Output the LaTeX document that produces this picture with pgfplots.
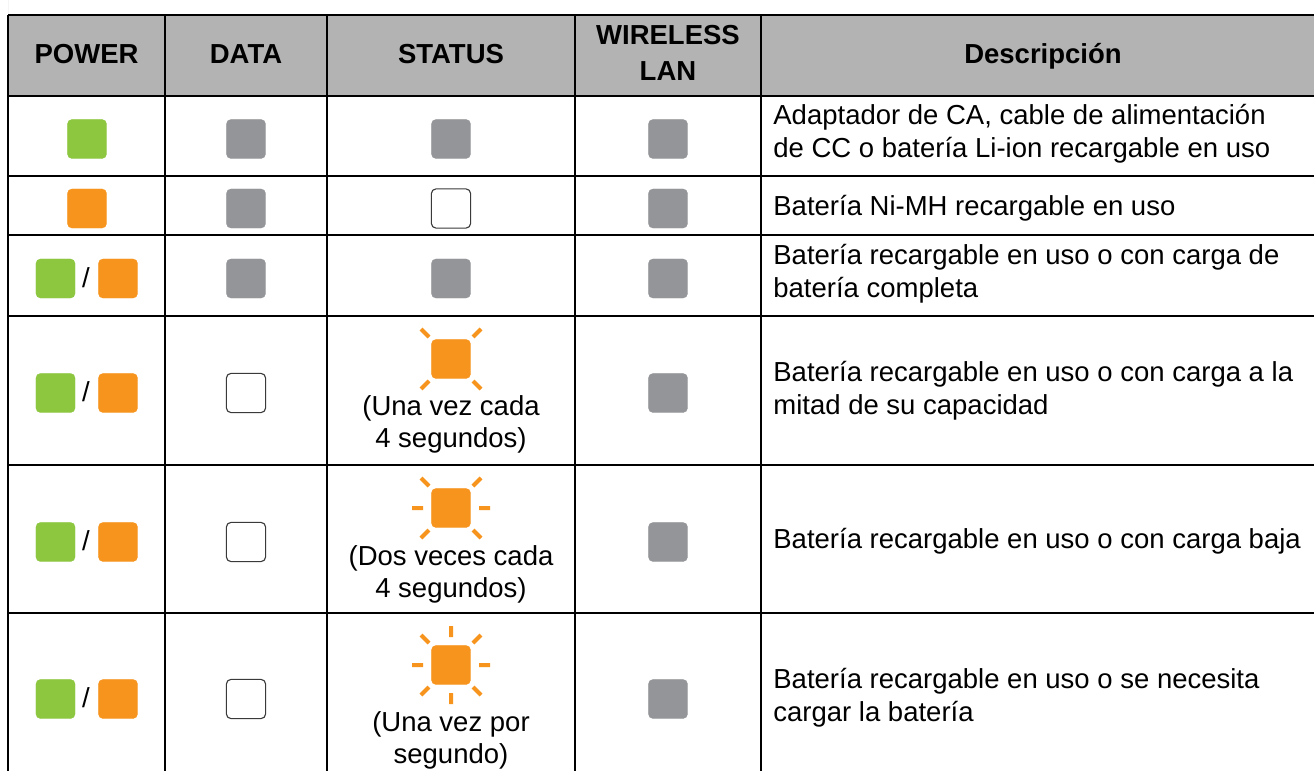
\documentclass[border=0pt]{standalone}
\usepackage{pgfplots}
\pgfplotsset{compat=1.18}
\usepackage{fontspec}
\setmainfont{Liberation Sans}
\definecolor{ledgreen}{HTML}{8DC63F}
\definecolor{ledorange}{HTML}{F7941D}
\definecolor{ledgrey}{HTML}{939598}
\definecolor{headgrey}{HTML}{B3B3B3}
\definecolor{edgegrey}{HTML}{3A3A3A}
\pgfdeclareplotmark{rsq}{%
  \pgfpathmoveto{\pgfqpoint{-7.5pt}{-9.8pt}}%
  \pgfpathlineto{\pgfqpoint{7.5pt}{-9.8pt}}%
  \pgfpatharc{-90}{0}{2.3pt}%
  \pgfpathlineto{\pgfqpoint{9.8pt}{7.5pt}}%
  \pgfpatharc{0}{90}{2.3pt}%
  \pgfpathlineto{\pgfqpoint{-7.5pt}{9.8pt}}%
  \pgfpatharc{90}{180}{2.3pt}%
  \pgfpathlineto{\pgfqpoint{-9.8pt}{-7.5pt}}%
  \pgfpatharc{180}{270}{2.3pt}%
  \pgfpathclose
  \pgfusepathqfillstroke}
\newcommand{\bodyfont}{\fontsize{13.75}{16.25}\selectfont}
\newcommand{\headfont}{\fontsize{13.75}{16.25}\selectfont\bfseries}
\begin{document}
\begin{tikzpicture}
\begin{axis}[
  scale only axis, width=657pt, height=385.5pt,
  xmin=0, xmax=1314, ymin=0, ymax=771, y dir=reverse,
  hide axis, unbounded coords=jump,
]
% background and header band
\addplot[fill=white, draw=none] coordinates {(0,0) (1314,0) (1314,771) (0,771)} \closedcycle;
\addplot[fill=headgrey, draw=none] coordinates {(8,15) (1314,15) (1314,96) (8,96)} \closedcycle;
% table rules
\addplot[black, line width=1pt] coordinates {
 (8,15) (1314,15) (nan,nan)
 (8,96) (1314,96) (nan,nan)
 (8,176) (1314,176) (nan,nan)
 (8,235) (1314,235) (nan,nan)
 (8,316) (1314,316) (nan,nan)
 (8,465) (1314,465) (nan,nan)
 (8,613) (1314,613) (nan,nan)
 (8,14.5) (8,771) (nan,nan)
 (165,15) (165,771) (nan,nan)
 (327,15) (327,771) (nan,nan)
 (575,15) (575,771) (nan,nan)
 (761,15) (761,771)
};
% sun rays
\addplot[ledorange, line width=2pt] coordinates {
 (421,329) (429,337) (nan,nan) (481,329) (473,337) (nan,nan)
 (421,389) (429,381) (nan,nan) (481,389) (473,381) (nan,nan)
 (421,478) (429,486) (nan,nan) (481,478) (473,486) (nan,nan)
 (421,538) (429,530) (nan,nan) (481,538) (473,530) (nan,nan)
 (412,508) (423,508) (nan,nan) (479,508) (490,508) (nan,nan)
 (421,635) (429,643) (nan,nan) (481,635) (473,643) (nan,nan)
 (421,695) (429,687) (nan,nan) (481,695) (473,687) (nan,nan)
 (412,665) (423,665) (nan,nan) (479,665) (490,665) (nan,nan)
 (451,626) (451,637) (nan,nan) (451,693) (451,704)
};
% LED squares
\addplot[only marks, mark=rsq, mark options={fill=ledgreen, draw=ledgreen, line width=0.1pt}] coordinates {
 (87,139) (55.5,278.5) (55.5,393) (55.5,542) (55.5,699)
};
\addplot[only marks, mark=rsq, mark options={fill=ledorange, draw=ledorange, line width=0.1pt}] coordinates {
 (87,208.5) (118,278.5) (118,393) (118,542) (118,699)
 (451,359) (451,508) (451,665)
};
\addplot[only marks, mark=rsq, mark options={fill=ledgrey, draw=ledgrey, line width=0.1pt}] coordinates {
 (246,139) (246,208.5) (246,278.5)
 (451,139) (451,278.5)
 (668,139) (668,208.5) (668,278.5) (668,393) (668,542) (668,699)
};
\addplot[only marks, mark=rsq, mark options={fill=white, draw=edgegrey, line width=0.55pt}] coordinates {
 (451,208.5) (246,393) (246,542) (246,699)
};
% header text
\node[anchor=base, inner sep=0pt] at (axis cs:86.5,63.3) {\headfont POWER};
\node[anchor=base, inner sep=0pt] at (axis cs:246,63.3) {\headfont DATA};
\node[anchor=base, inner sep=0pt] at (axis cs:451,63.3) {\headfont STATUS};
\node[anchor=base, inner sep=0pt] at (axis cs:668,45) {\headfont WIRELESS};
\node[anchor=base, inner sep=0pt] at (axis cs:668,80) {\headfont LAN};
\node[anchor=base, inner sep=0pt] at (axis cs:1043,63.3) {\headfont Descripción};
% slashes
\node[anchor=base, inner sep=0pt] at (axis cs:86,287) {\bodyfont /};
\node[anchor=base, inner sep=0pt] at (axis cs:86,401.5) {\bodyfont /};
\node[anchor=base, inner sep=0pt] at (axis cs:86,550.5) {\bodyfont /};
\node[anchor=base, inner sep=0pt] at (axis cs:86,707.5) {\bodyfont /};
% status captions
\node[anchor=base, inner sep=0pt] at (axis cs:451,415.7) {\bodyfont (Una vez cada};
\node[anchor=base, inner sep=0pt] at (axis cs:451,447.7) {\bodyfont 4 segundos)};
\node[anchor=base, inner sep=0pt] at (axis cs:451,565) {\bodyfont (Dos veces cada};
\node[anchor=base, inner sep=0pt] at (axis cs:451,597) {\bodyfont 4 segundos)};
\node[anchor=base, inner sep=0pt] at (axis cs:451,731) {\bodyfont (Una vez por};
\node[anchor=base, inner sep=0pt] at (axis cs:451,763) {\bodyfont segundo)};
% descriptions
\node[anchor=base west, inner sep=0pt] at (axis cs:773,124.5) {\bodyfont Adaptador de CA, cable de alimentación};
\node[anchor=base west, inner sep=0pt] at (axis cs:773,157.5) {\bodyfont de CC o batería Li-ion recargable en uso};
\node[anchor=base west, inner sep=0pt] at (axis cs:773,215) {\bodyfont Batería Ni-MH recargable en uso};
\node[anchor=base west, inner sep=0pt] at (axis cs:773,264) {\bodyfont Batería recargable en uso o con carga de};
\node[anchor=base west, inner sep=0pt] at (axis cs:773,297) {\bodyfont batería completa};
\node[anchor=base west, inner sep=0pt] at (axis cs:773,381) {\bodyfont Batería recargable en uso o con carga a la};
\node[anchor=base west, inner sep=0pt] at (axis cs:773,414) {\bodyfont mitad de su capacidad};
\node[anchor=base west, inner sep=0pt] at (axis cs:773,548) {\bodyfont Batería recargable en uso o con carga baja};
\node[anchor=base west, inner sep=0pt] at (axis cs:773,688) {\bodyfont Batería recargable en uso o se necesita};
\node[anchor=base west, inner sep=0pt] at (axis cs:773,721) {\bodyfont cargar la batería};
\end{axis}
\end{tikzpicture}
\end{document}
